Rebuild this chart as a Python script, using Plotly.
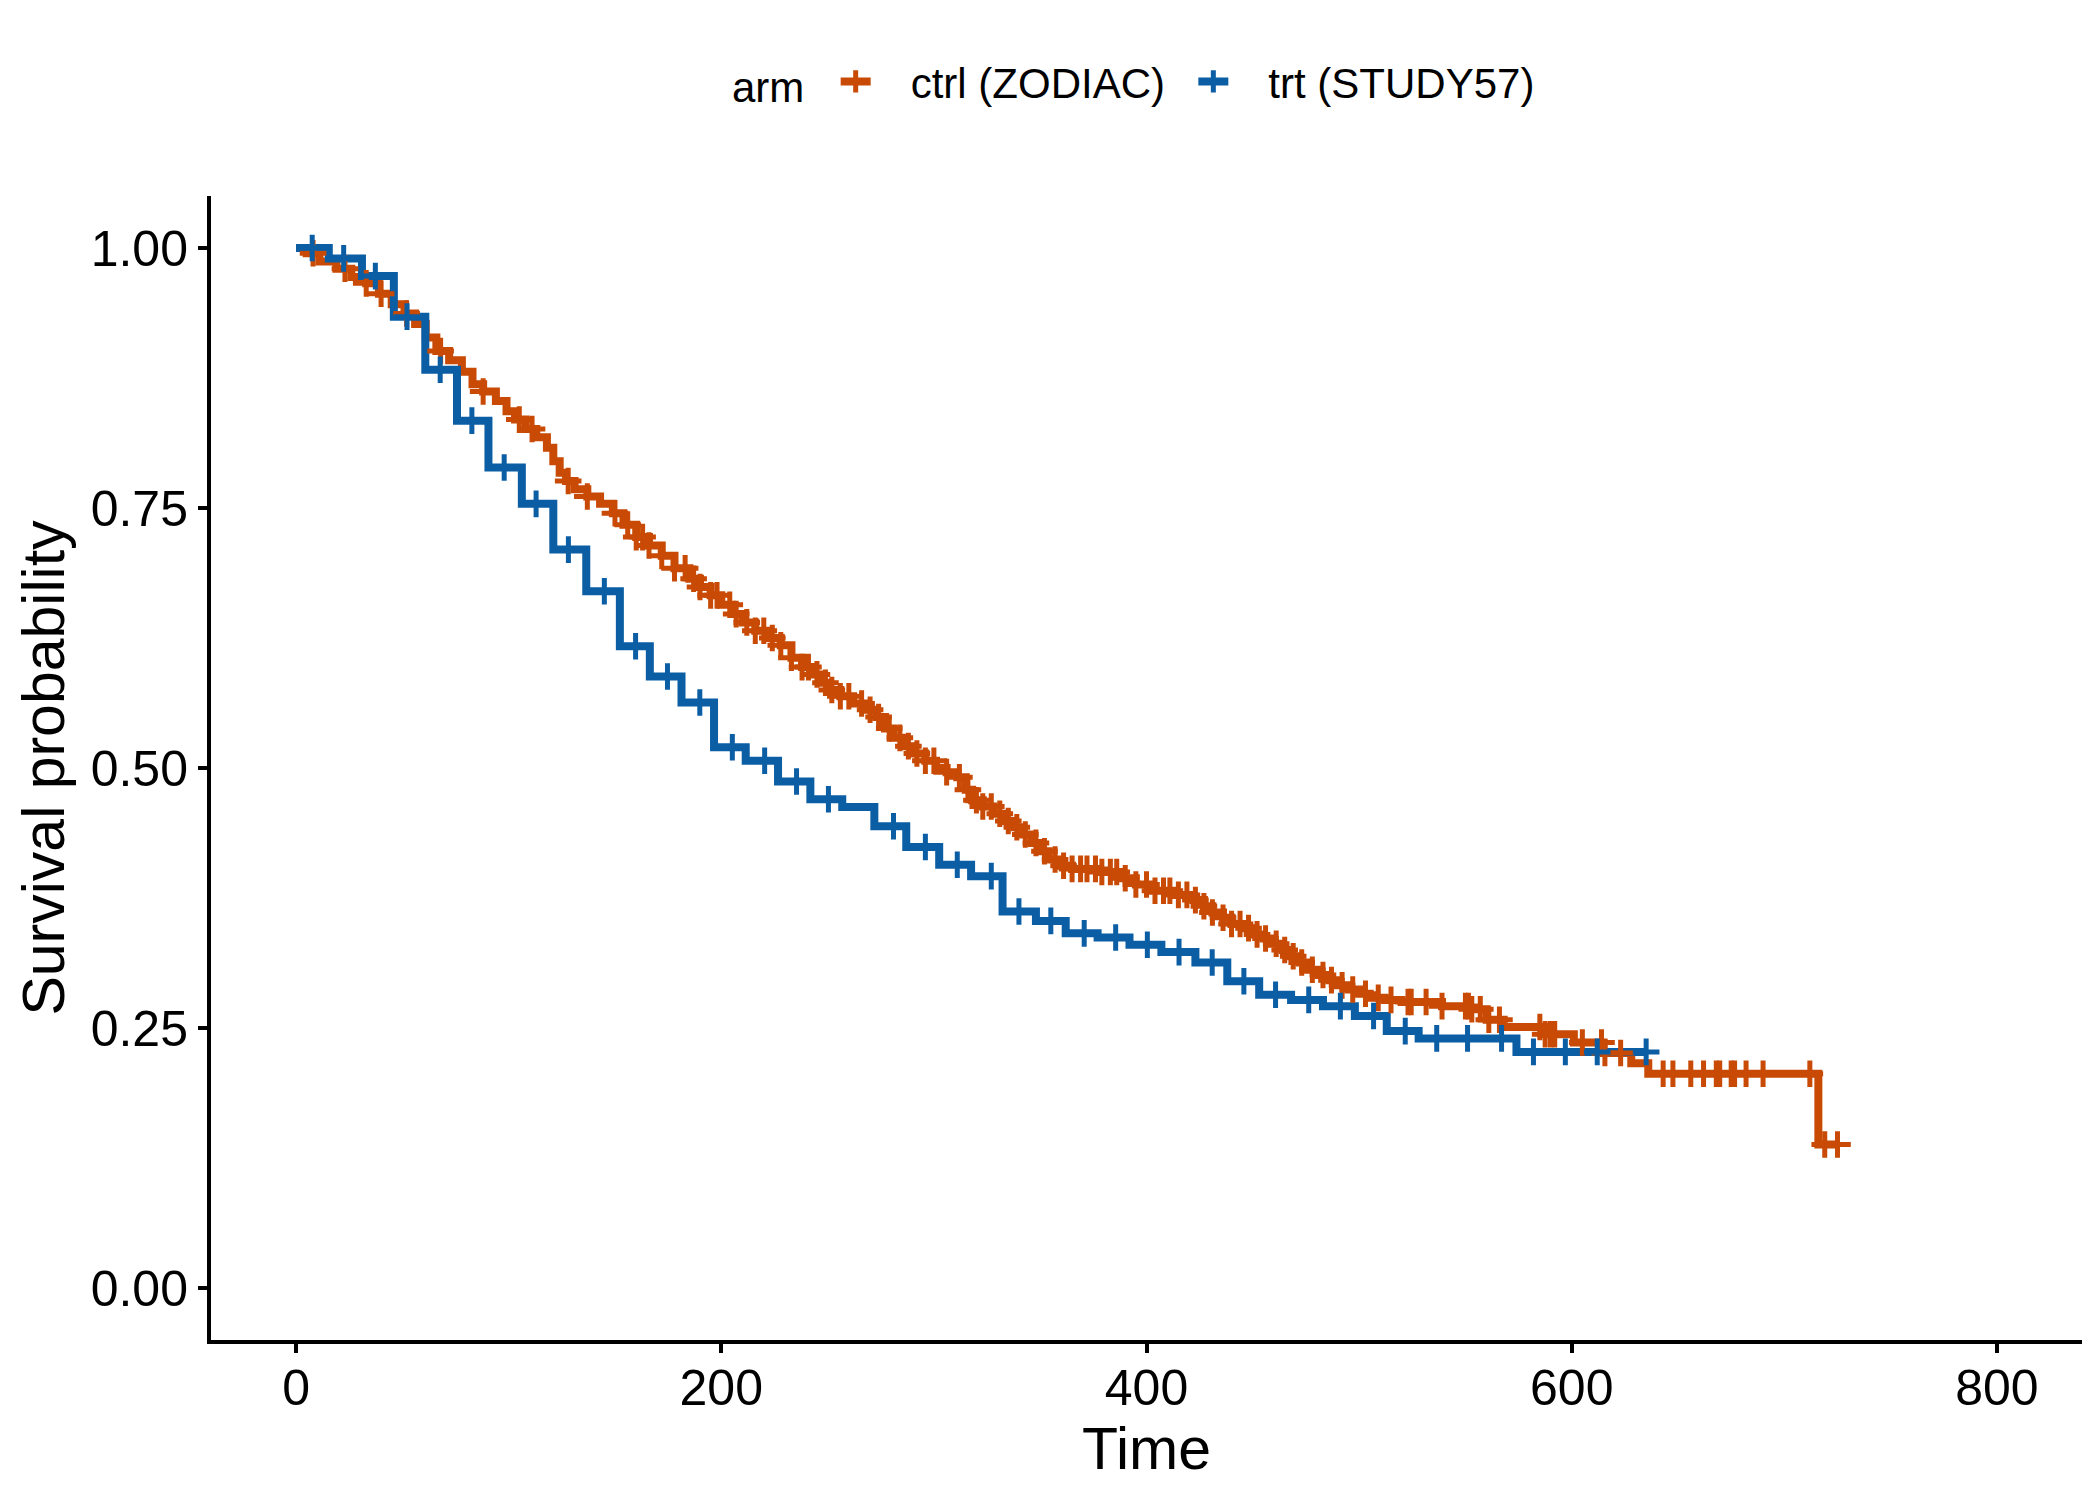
import numpy as np
import plotly.graph_objects as go

# ---------------- data ----------------
# ctrl (ZODIAC): event times and Kaplan-Meier survival just after each event
ctrl_time = [5, 11, 19, 26, 33, 39, 45, 51, 56, 61, 66, 72, 78, 83, 88, 94, 99, 103,
             108, 113, 118, 121, 124, 127, 131, 137, 143, 149, 154, 160, 166, 172,
             178, 185, 190, 195, 200, 205, 210, 216, 222, 228, 233, 238, 243, 247,
             251, 256, 262, 268, 273, 277, 281, 286, 290, 296, 301, 306, 311, 315,
             318, 323, 328, 333, 338, 342, 346, 350, 354, 359, 365, 378, 388, 395,
             403, 412, 422, 427, 431, 436, 440, 445, 450, 455, 459, 464, 468, 472,
             476, 481, 486, 490, 495, 500, 505, 512, 520, 539, 552, 560, 568, 587,
             601, 615, 628, 636, 716]
ctrl_surv = [0.995, 0.987, 0.980, 0.972, 0.966, 0.956, 0.946, 0.937, 0.927, 0.914,
             0.901, 0.892, 0.881, 0.869, 0.862, 0.853, 0.843, 0.835, 0.826, 0.818,
             0.808, 0.795, 0.784, 0.776, 0.768, 0.761, 0.754, 0.745, 0.734, 0.722,
             0.714, 0.704, 0.692, 0.682, 0.674, 0.666, 0.657, 0.648, 0.640, 0.632,
             0.625, 0.618, 0.606, 0.597, 0.590, 0.582, 0.575, 0.569, 0.562, 0.556,
             0.549, 0.538, 0.529, 0.521, 0.514, 0.507, 0.500, 0.496, 0.491, 0.479,
             0.469, 0.463, 0.456, 0.449, 0.443, 0.436, 0.428, 0.420, 0.412, 0.406,
             0.403, 0.400, 0.394, 0.388, 0.382, 0.378, 0.373, 0.367, 0.361, 0.356,
             0.350, 0.346, 0.340, 0.336, 0.331, 0.325, 0.319, 0.313, 0.306, 0.301,
             0.296, 0.291, 0.287, 0.283, 0.279, 0.277, 0.275, 0.271, 0.268, 0.258,
             0.251, 0.244, 0.236, 0.226, 0.216, 0.206, 0.138]
ctrl_censor = [8, 23, 33, 40, 52, 68, 88, 105, 111, 128, 137, 150, 156, 160, 163, 166,
               172, 178, 183, 187, 190, 195, 198, 204, 207, 212, 216, 220, 224, 228,
               233, 238, 241, 245, 249, 252, 256, 260, 266, 270, 274, 279, 284, 288,
               292, 296, 300, 306, 312, 316, 320, 323, 327, 331, 335, 339, 343, 348,
               352, 357, 361, 365, 369, 372, 376, 379, 383, 386, 390, 395, 400, 404,
               408, 411, 415, 419, 423, 427, 431, 436, 440, 444, 448, 452, 456, 461,
               465, 469, 473, 478, 483, 487, 492, 497, 503, 509, 515, 523, 524.5, 531.5,
               539, 550, 551.4, 553, 557, 561, 566, 585, 587.5, 590, 592, 605, 614,
               615.6, 623, 643, 647.6, 656, 662, 668, 669.6, 675, 676.6, 682, 690, 712,
               719, 725]

# trt (STUDY57)
trt_time = [15.4, 31, 46, 60.8, 75.7, 90.5, 106.2, 121, 136.5, 152.3, 166.4, 181.3,
            196.6, 211.5, 226.7, 241.9, 256.9, 272, 287, 302.5, 317.5, 332.3, 348, 362,
            377, 392, 407, 423, 438, 453, 468, 483, 498, 513, 528, 574]
trt_surv = [0.990, 0.973, 0.934, 0.883, 0.834, 0.789, 0.754, 0.710, 0.670, 0.617,
            0.588, 0.563, 0.520, 0.507, 0.487, 0.470, 0.4625, 0.444, 0.424, 0.407,
            0.396, 0.362, 0.353, 0.341, 0.337, 0.330, 0.323, 0.313, 0.295, 0.282,
            0.277, 0.271, 0.2615, 0.247, 0.240, 0.227]
trt_censor = [7.6, 22.4, 37.3, 52.2, 67.8, 82.7, 97.9, 112.9, 128.1, 145, 159.7, 174.7,
              189.9, 205.2, 220.4, 235.4, 250.4, 281, 296, 311, 327, 340, 355, 370.7,
              385.5, 400.4, 415.3, 430.9, 445.8, 460.7, 476.3, 491.2, 506.8, 521.7,
              536.5, 551, 567, 582, 597, 612, 635]

arm_names = ["ctrl (ZODIAC)", "trt (STUDY57)"]
arm_colors = ["#C84A05", "#0B5EA4"]
x_ticks = [0, 200, 400, 600, 800]
y_ticks = [0, 0.25, 0.5, 0.75, 1.0]
y_ticktext = ["0.00", "0.25", "0.50", "0.75", "1.00"]

FONT = "Liberation Sans, Arial, Helvetica, sans-serif"
LW = 8
MSIZE = 19
MLW = 5
NB = "\u00a0"


def step_path(times, surv, censor):
    end = max(censor)
    x = [0] + list(times) + [end]
    y = [1.0] + list(surv) + [surv[-1]]
    return x, y


def censor_y(times, surv, censor):
    t = np.asarray(times)
    s = np.asarray(surv)
    idx = np.searchsorted(t, np.asarray(censor), side="right")
    return np.where(idx == 0, 1.0, s[np.maximum(idx - 1, 0)])


groups = [(ctrl_time, ctrl_surv, ctrl_censor), (trt_time, trt_surv, trt_censor)]

fig = go.Figure()

# step lines
for (tm, sv, cs), name, col in zip(groups, arm_names, arm_colors):
    x, y = step_path(tm, sv, cs)
    fig.add_trace(go.Scatter(x=x, y=y, mode="lines", line=dict(color=col, width=LW, shape="hv"),
                             name=name, showlegend=False, hoverinfo="skip"))

# censor marks
for (tm, sv, cs), name, col in zip(groups, arm_names, arm_colors):
    fig.add_trace(go.Scatter(x=cs, y=censor_y(tm, sv, cs), mode="markers",
                             marker=dict(symbol="cross-thin", size=MSIZE,
                                         line=dict(width=MLW, color=col), color=col),
                             name=name, showlegend=False))

# legend entries
for name, col in zip(arm_names, arm_colors):
    fig.add_trace(go.Scatter(x=[None], y=[None], mode="lines+markers",
                             line=dict(color=col, width=LW),
                             marker=dict(symbol="cross-thin", size=MSIZE,
                                         line=dict(width=MLW, color=col), color=col),
                             name=NB * 3 + name + NB * 2, showlegend=True))

axis_common = dict(showline=True, linecolor="black", linewidth=4, mirror=False,
                   ticks="outside", ticklen=9, tickwidth=4, tickcolor="black",
                   showgrid=False, zeroline=False,
                   tickfont=dict(family=FONT, size=50, color="black"))

fig.update_layout(
    width=2100, height=1500,
    paper_bgcolor="white", plot_bgcolor="white",
    margin=dict(l=211, r=18, t=196, b=160, autoexpand=False),
    font=dict(family=FONT, color="black"),
    xaxis=dict(range=[-40, 840], tickvals=x_ticks, ticklabelstandoff=-8,
               title=dict(text="Time", font=dict(family=FONT, size=59, color="black"), standoff=1),
               **axis_common),
    yaxis=dict(range=[-0.05, 1.05], tickvals=y_ticks, ticktext=y_ticktext,
               title=dict(text="Survival probability", font=dict(family=FONT, size=59, color="black"), standoff=8),
               **axis_common),
    legend=dict(orientation="h", x=0.5, xanchor="center", y=1.10, yanchor="middle",
                title=dict(text="arm" + NB * 2, font=dict(family=FONT, size=42, color="black")),
                font=dict(family=FONT, size=42, color="black"),
                bgcolor="rgba(0,0,0,0)"),
    showlegend=True,
)

fig.write_html("out.html", config={"displayModeBar": False},
               post_script="document.body.style.margin='0';")
